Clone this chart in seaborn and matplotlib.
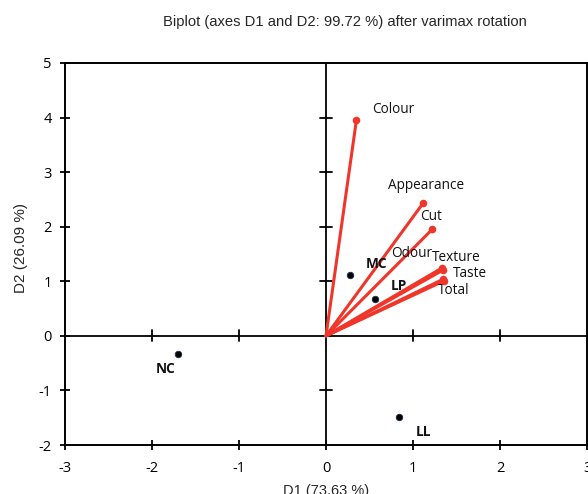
import matplotlib

matplotlib.use("Agg")
import matplotlib.pyplot as plt
import pandas as pd
import seaborn as sns


# variable vectors (loadings) after varimax rotation
variables = ["Colour", "Appearance", "Cut", "Odour", "Texture", "Taste", "Total"]
var_d1 = [0.35, 1.12, 1.22, 1.33, 1.35, 1.35, 1.36]
var_d2 = [3.96, 2.44, 1.95, 1.24, 1.21, 1.04, 1.01]

# observations
samples = ["MC", "LP", "NC", "LL"]
obs_d1 = [0.28, 0.56, -1.70, 0.84]
obs_d2 = [1.12, 0.68, -0.33, -1.49]

x_ticks = [-3, -2, -1, 0, 1, 2, 3]
y_ticks = [-2, -1, 0, 1, 2, 3, 4, 5]

RED = "#f0362a"

# label offsets in pixels (dx, dy)
var_offsets = [(16, 10), (-35, 17), (-12, 13), (-51, 15), (-12, 12), (9, 6), (-6, -10)]
obs_offsets = [(15, 11), (16, 13), (-22, -15), (17, -15)]


def main() -> None:
    sns.set_theme(style="white")
    plt.rcParams["font.family"] = ["Open Sans", "DejaVu Sans"]
    plt.rcParams["axes.unicode_minus"] = False

    var_df = pd.DataFrame({"D1": var_d1, "D2": var_d2, "name": variables})
    obs_df = pd.DataFrame({"D1": obs_d1, "D2": obs_d2, "name": samples})

    fig = plt.figure(figsize=(5.88, 4.94), dpi=100)
    ax = fig.add_axes([65 / 588, 49 / 494, 522 / 588, 382 / 494])

    # vectors from origin
    for x, y in zip(var_df["D1"], var_df["D2"]):
        ax.plot([0, x], [0, y], color=RED, lw=2.2, solid_capstyle="round", zorder=3)
    sns.scatterplot(data=var_df, x="D1", y="D2", color=RED, s=30,
                    edgecolor=RED, linewidth=0, zorder=4, ax=ax)
    sns.scatterplot(data=obs_df, x="D1", y="D2", color="black", s=22,
                    edgecolor="#1a2a55", linewidth=0.6, zorder=4, ax=ax)

    for (name, x, y), (dx, dy) in zip(var_df[["name", "D1", "D2"]].values, var_offsets):
        ax.annotate(name, (x, y), xytext=(dx, dy), textcoords="offset pixels",
                    fontsize=9.8, va="center", ha="left", color="#111111")
    for (name, x, y), (dx, dy) in zip(obs_df[["name", "D1", "D2"]].values, obs_offsets):
        ax.annotate(name, (x, y), xytext=(dx, dy), textcoords="offset pixels",
                    fontsize=9.8, fontweight="bold", va="center", ha="left",
                    color="#111111")

    # axes through the origin, with crossing ticks
    ax.axhline(0, color="black", lw=1.3, zorder=2)
    ax.axvline(0, color="black", lw=1.3, zorder=2)
    for t in x_ticks[1:-1]:
        if t != 0:
            ax.plot([t, t], [-0.1, 0.1], color="black", lw=1.3, zorder=2)
    for t in y_ticks[1:-1]:
        if t != 0:
            ax.plot([-0.07, 0.07], [t, t], color="black", lw=1.3, zorder=2)

    ax.set_xlim(-3, 3)
    ax.set_ylim(-2, 5)
    ax.set_xticks(x_ticks)
    ax.set_yticks(y_ticks)
    ax.tick_params(direction="inout", length=7, width=1.3, colors="black",
                   labelsize=10.5, bottom=True, left=True, pad=6)
    ax.tick_params(axis="x", pad=8)
    for side in ["top", "right", "bottom", "left"]:
        ax.spines[side].set_color("black")
        ax.spines[side].set_linewidth(1.4)

    ax.set_xlabel("D1 (73.63 %)", fontsize=10.5, family="Liberation Sans", labelpad=6)
    ax.set_ylabel("D2 (26.09 %)", fontsize=11, family="Liberation Sans")
    ax.yaxis.set_label_coords(-0.071, 0.516)
    fig.text(345 / 588, 1 - 22 / 494, "Biplot (axes D1 and D2: 99.72 %) after varimax rotation",
             ha="center", va="center", fontsize=10.6, family="Liberation Sans")

    fig.savefig("out.png", dpi=100)
    plt.close(fig)


if __name__ == "__main__":
    main()
